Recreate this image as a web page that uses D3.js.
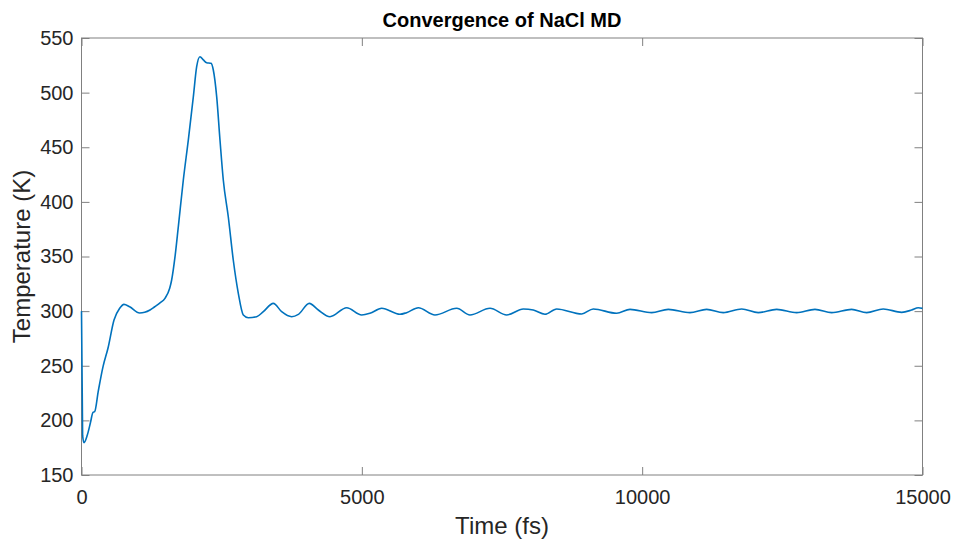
<!DOCTYPE html>
<html>
<head>
<meta charset="utf-8">
<script src="https://cdn.jsdelivr.net/npm/d3@7"></script>
<style>
  body { margin: 0; background: #fff; }
  text { font-family: "Liberation Sans", Arial, sans-serif; fill: #262626; }
</style>
</head>
<body>
<div id="viz"></div>
<script>
var width = 956;
var height = 544;

// time (fs) and temperature (K)
var time = [0, 20, 45, 104, 160, 205, 235, 300, 383, 472, 580, 681, 758, 859, 1037, 1127, 1222, 1305,
  1400, 1489, 1573, 1608, 1668, 1727, 1816, 1905, 1995, 2054, 2113, 2173, 2233, 2310, 2351, 2411,
  2470, 2529, 2618, 2707, 2797, 2886, 2975, 3124, 3243, 3421, 3570, 3749, 3868, 4063, 4224, 4432,
  4730, 4997, 5145, 5354, 5680, 5799, 6007, 6305, 6692, 6929, 7286, 7583, 7880, 8058, 8267, 8475,
  8921, 9128, 9545, 9783, 10169, 10466, 10852, 11150, 11447, 11775, 12071, 12399, 12756, 13082,
  13380, 13736, 14004, 14300, 14628, 14806, 14925, 15000];
var temp = [300, 186, 179.6, 186.6, 198, 207.4, 208, 227, 249, 266, 291.9, 302.6, 306.2, 304, 298.3, 298.9, 301, 304,
  307.5, 311.7, 320.9, 328.5, 349.8, 377.3, 420, 456.6, 496.3, 523.7, 532.9, 529.9, 527.4, 526.8, 520.7, 496.3,
  456.6, 420, 386.4, 346.8, 316.3, 296.5, 294, 294.9, 299.5, 307.1, 299.5, 294.9, 297, 307.1, 301, 294.9,
  303.1, 296.5, 298, 302.6, 297.1, 298.6, 303.1, 296.5, 302.6, 296.5, 302.6, 296.5, 302, 301, 297.1, 302,
  297.4, 302, 298, 301.6, 298.6, 301.6, 298.6, 301.6, 298.6, 302, 298.6, 301.6, 298.6, 301.6,
  298.6, 301.6, 298.6, 302, 298.9, 301, 303.1, 302.5];

var xTicks = [0, 5000, 10000, 15000];
var yTicks = [150, 200, 250, 300, 350, 400, 450, 500, 550];

var margin = {top: 38, right: 33.5, bottom: 69, left: 81.5};
var w = width - margin.left - margin.right;
var h = height - margin.top - margin.bottom;

var svg = d3.select("#viz").append("svg")
   .attr("width", width)
   .attr("height", height);

var g = svg.append("g")
   .attr("transform", "translate(" + margin.left + "," + margin.top + ")");

var x = d3.scaleLinear().domain([0, 15000]).range([0, w]);
var y = d3.scaleLinear().domain([150, 550]).range([h, 0]);

// Axes (MATLAB style, ticks inward on all four sides) //

var tickLen = 8;

function styleAxis(sel) {
   sel.select(".domain").remove();
   sel.selectAll(".tick line").attr("stroke", "#808080");
   sel.selectAll(".tick text")
      .style("font-size", "20px")
      .attr("fill", "#262626");
}

g.append("g")
   .attr("transform", "translate(0," + h + ")")
   .call(d3.axisBottom(x).tickValues(xTicks).tickFormat(d3.format("d")).tickSize(-tickLen).tickPadding(15))
   .call(styleAxis);

g.append("g")
   .call(d3.axisTop(x).tickValues(xTicks).tickFormat("").tickSize(-tickLen))
   .call(styleAxis);

g.append("g")
   .call(d3.axisLeft(y).tickValues(yTicks).tickFormat(d3.format("d")).tickSize(-tickLen).tickPadding(8))
   .call(styleAxis);

g.append("g")
   .attr("transform", "translate(" + w + ",0)")
   .call(d3.axisRight(y).tickValues(yTicks).tickFormat("").tickSize(-tickLen))
   .call(styleAxis);

g.append("rect")
   .attr("width", w)
   .attr("height", h)
   .attr("fill", "none")
   .attr("stroke", "#808080")
   .attr("stroke-width", 1);

// Data line //

var line = d3.line()
   .x(function(d, i) { return x(time[i]); })
   .y(function(d) { return y(d); })
   .curve(d3.curveMonotoneX);

g.append("path")
   .datum(temp)
   .attr("fill", "none")
   .attr("stroke", "#0072BD")
   .attr("stroke-width", 1.6)
   .attr("d", line);

// Labels //

svg.append("text")
   .attr("x", margin.left + w / 2)
   .attr("y", 27)
   .attr("text-anchor", "middle")
   .style("font-size", "20px")
   .style("font-weight", "bold")
   .style("fill", "#000")
   .text("Convergence of NaCl MD");

svg.append("text")
   .attr("x", margin.left + w / 2)
   .attr("y", 534)
   .attr("text-anchor", "middle")
   .style("font-size", "24px")
   .text("Time (fs)");

svg.append("text")
   .attr("transform", "translate(30," + (margin.top + h / 2) + ") rotate(-90)")
   .attr("text-anchor", "middle")
   .style("font-size", "24px")
   .text("Temperature (K)");
</script>
</body>
</html>
